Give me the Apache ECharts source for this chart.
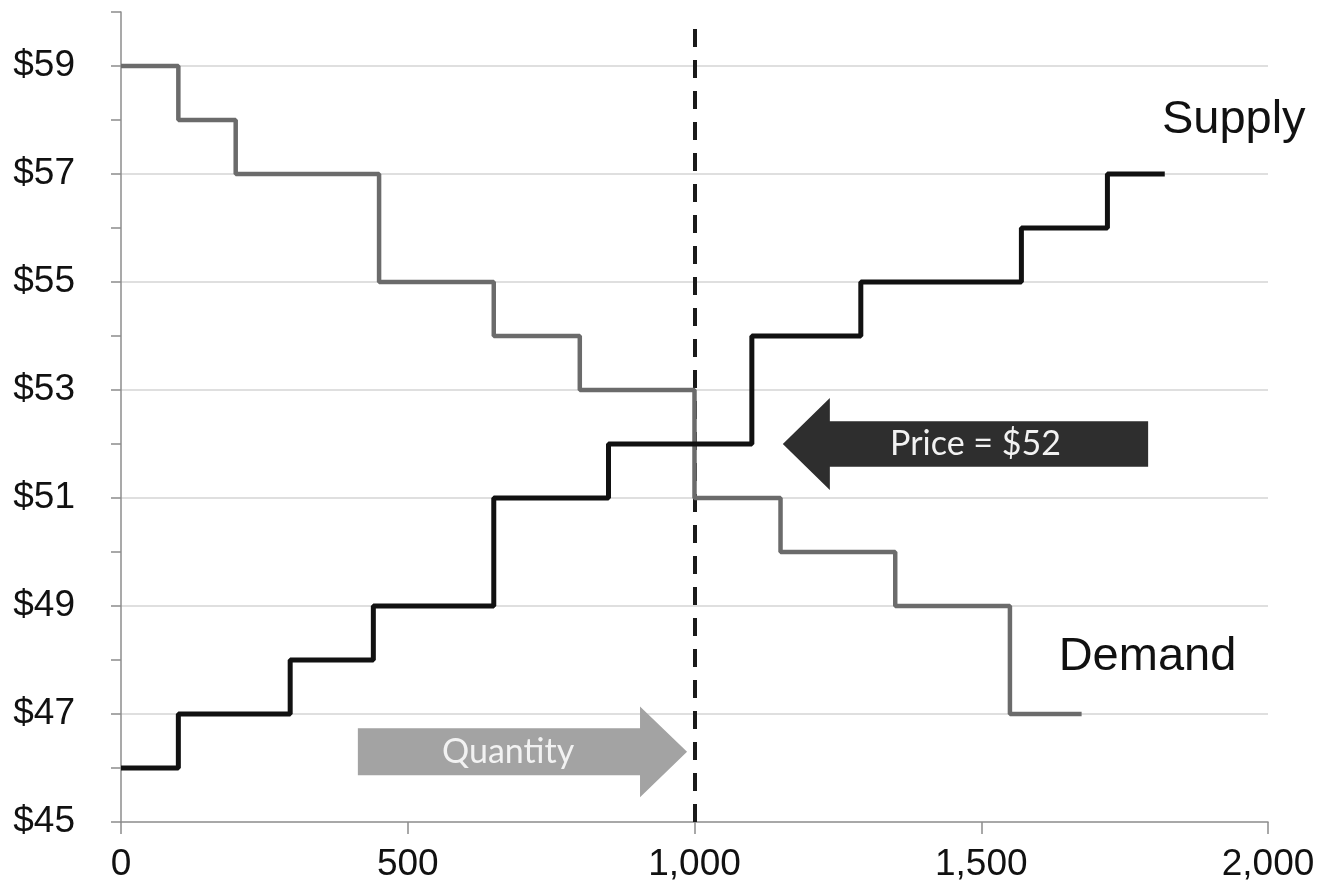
<!DOCTYPE html>
<html>
<head>
<meta charset="utf-8">
<script src="https://cdn.jsdelivr.net/npm/echarts@6/dist/echarts.min.js"></script>
<style>
html,body{margin:0;padding:0;background:#fff;}
#chart{width:1322px;height:891px;}
</style>
</head>
<body>
<div id="chart"></div>
<script>
// ---- data ----
var demandQty   = [0, 100, 200, 450, 650, 800, 1000, 1150, 1350, 1550, 1675];
var demandPrice = [59, 58, 57, 55, 54, 53, 51, 50, 49, 47, 47];
var supplyQty   = [0, 100, 295, 440, 650, 850, 1100, 1290, 1570, 1720, 1820];
var supplyPrice = [46, 47, 48, 49, 51, 52, 54, 55, 56, 57, 57];
var yTickLabels = [45, 47, 49, 51, 53, 55, 57, 59];
var xTickLabels = [0, 500, 1000, 1500, 2000];
var equilibriumQty = 1000;
var equilibriumPrice = 52;
var seriesLabels = ['Supply', 'Demand'];
var priceArrowText = 'Price = $52';
var qtyArrowText = 'Quantity';

function pairs(xs, ys){ return xs.map(function(x,i){ return [x, ys[i]]; }); }

var chart = echarts.init(document.getElementById('chart'), null, {renderer:'canvas'});
var FONT = '"Liberation Sans", Arial, sans-serif';

var gridLineData = yTickLabels.slice(1).map(function(v){ return {yAxis: v}; });

var option = {
  animation: false,
  backgroundColor: '#fff',
  grid: {left: 121, right: 54, top: 12, bottom: 69},
  xAxis: {
    type: 'value', min: 0, max: 2000, interval: 500,
    axisLine: {show: true, lineStyle: {color: '#8c8c8c', width: 1.5}},
    axisTick: {show: true, length: 12, lineStyle: {color: '#8c8c8c', width: 1.5}},
    splitLine: {show: false},
    axisLabel: {
      fontFamily: FONT, fontSize: 37, color: '#111', margin: 24,
      formatter: function(v){ return v.toLocaleString('en-US'); }
    }
  },
  yAxis: {
    type: 'value', min: 45, max: 60, interval: 1,
    axisLine: {show: true, lineStyle: {color: '#8c8c8c', width: 1.5}},
    axisTick: {show: true, length: 10, lineStyle: {color: '#8c8c8c', width: 1.5}},
    splitLine: {show: false},
    axisLabel: {
      fontFamily: FONT, fontSize: 37, color: '#111', margin: 46,
      formatter: function(v){ return (yTickLabels.indexOf(v) >= 0) ? '$' + v : ''; }
    }
  },
  series: [
    {
      name: 'grid', type: 'line', data: [], silent: true, z: 0,
      markLine: {
        silent: true, symbol: 'none', animation: false, z: 0,
        label: {show: false},
        lineStyle: {color: '#d4d4d4', width: 1.5, type: 'solid'},
        data: gridLineData
      }
    },
    {
      name: 'Demand', type: 'line', step: 'end', showSymbol: false,
      data: pairs(demandQty, demandPrice),
      lineStyle: {color: '#6b6b6b', width: 4.5},
      z: 5
    },
    {
      name: 'Supply', type: 'line', step: 'end', showSymbol: false,
      data: pairs(supplyQty, supplyPrice),
      lineStyle: {color: '#111111', width: 5},
      z: 6,
      markLine: {
        silent: true, symbol: 'none', animation: false,
        label: {show: false},
        lineStyle: {color: '#1a1a1a', width: 4, type: [18, 13]},
        data: [[{coord: [equilibriumQty, 45]}, {coord: [equilibriumQty, 59.7]}]]
      }
    }
  ]
};
chart.setOption(option);

function px(x, y){ return chart.convertToPixel({gridIndex: 0}, [x, y]); }

// Price arrow (pointing left) in data coordinates
var pa = {tip: 1154, headBase: 1236, tail: 1791, y: equilibriumPrice, bodyHalf: 0.42, headHalf: 0.85};
var pPts = [
  px(pa.tip, pa.y),
  px(pa.headBase, pa.y + pa.headHalf),
  px(pa.headBase, pa.y + pa.bodyHalf),
  px(pa.tail, pa.y + pa.bodyHalf),
  px(pa.tail, pa.y - pa.bodyHalf),
  px(pa.headBase, pa.y - pa.bodyHalf),
  px(pa.headBase, pa.y - pa.headHalf)
];
// Quantity arrow (pointing right)
var qa = {tail: 413, headBase: 905, tip: 987, y: 46.3, bodyHalf: 0.435, headHalf: 0.84};
var qPts = [
  px(qa.tip, qa.y),
  px(qa.headBase, qa.y - qa.headHalf),
  px(qa.headBase, qa.y - qa.bodyHalf),
  px(qa.tail, qa.y - qa.bodyHalf),
  px(qa.tail, qa.y + qa.bodyHalf),
  px(qa.headBase, qa.y + qa.bodyHalf),
  px(qa.headBase, qa.y + qa.headHalf)
];
var pTextPos = px(1490, pa.y);
var qTextPos = px(675, qa.y);
var supplyLbl = px(1815, 58.0);
var demandLbl = px(1635, 48.05);

chart.setOption({
  graphic: [
    {type: 'polygon', shape: {points: pPts}, style: {fill: '#2e2e2e'}, z: 10},
    {type: 'text', x: pTextPos[0], y: pTextPos[1], z: 11,
     style: {text: priceArrowText, fill: '#f2f2f2', font: '34px Lato, "Open Sans", sans-serif', textAlign: 'center', textVerticalAlign: 'middle'}},
    {type: 'polygon', shape: {points: qPts}, style: {fill: '#a3a3a3'}, z: 10},
    {type: 'text', x: qTextPos[0], y: qTextPos[1], z: 11,
     style: {text: qtyArrowText, fill: '#f2f2f2', font: '34px Lato, "Open Sans", sans-serif', textAlign: 'center', textVerticalAlign: 'middle'}},
    {type: 'text', x: supplyLbl[0], y: supplyLbl[1], z: 11,
     style: {text: seriesLabels[0], fill: '#111', font: '47px "Liberation Sans", Arial, sans-serif', textAlign: 'left', textVerticalAlign: 'middle'}},
    {type: 'text', x: demandLbl[0], y: demandLbl[1], z: 11,
     style: {text: seriesLabels[1], fill: '#111', font: '47px "Liberation Sans", Arial, sans-serif', textAlign: 'left', textVerticalAlign: 'middle'}}
  ]
});
</script>
</body>
</html>
